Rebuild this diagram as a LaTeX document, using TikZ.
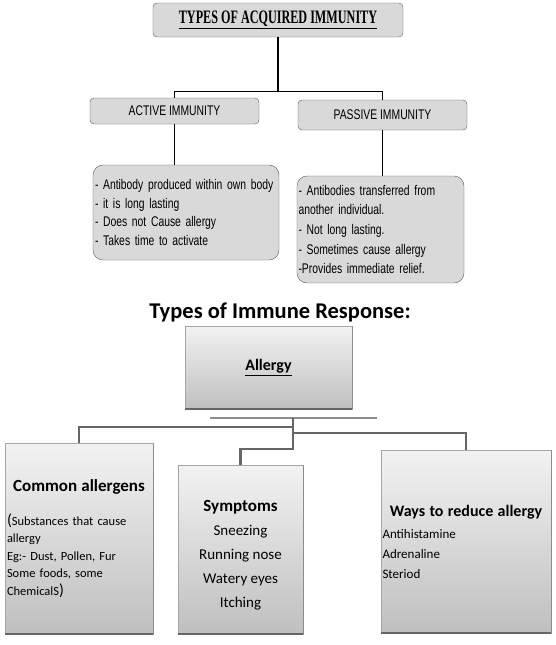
\documentclass[tikz,border=0pt]{standalone}
\usepackage{fontspec}
\setmainfont{Carlito}
\newfontfamily\narrowsans[FakeStretch=0.74]{Liberation Sans}
\newfontfamily\narrowserif[FakeStretch=0.64]{Liberation Serif}
\usetikzlibrary{calc}
\tikzset{
  tab/.style={draw=black!65,fill=gray!30,rounded corners=4pt,inner sep=0pt,font=\narrowsans\fontsize{14}{16}\selectfont},
  note/.style={draw=black!65,fill=gray!30,rounded corners=10pt,align=left,inner ysep=0pt,font=\narrowsans\fontsize{14}{18.8}\selectfont},
  panel/.style={draw=black!35,top color=black!5,bottom color=black!25,inner ysep=0pt},
  rim/.style={draw=black!60,line width=1.8pt},
  tie/.style={line width=1.3pt},
  link/.style={draw=black!60,line width=2.6pt},
  bar/.style={draw=black!45,line width=1.8pt}
}
\begin{document}
\begin{tikzpicture}[x=1pt,y=1pt]
\useasboundingbox(0,0)rectangle(556,-645);
\node[tab,minimum width=250pt,minimum height=34pt,font=\narrowserif\bfseries\fontsize{19}{19}\selectfont](acquired)at(278,-20){\underline{TYPES OF ACQUIRED IMMUNITY}};
\node[tab,minimum width=169pt,minimum height=26pt](active)at(174.5,-111){ACTIVE IMMUNITY};
\node[tab,minimum width=169pt,minimum height=30pt](passive)at(382.5,-115){PASSIVE IMMUNITY};
\node[note,minimum height=95pt,inner xsep=2pt,text width=182pt](activenote)at(186,-212.5){- Antibody produced within own body\\- it is long lasting\\- Does not Cause allergy\\- Takes time to activate};
\node[note,minimum height=107pt,inner xsep=1.5pt,text width=164pt,font=\narrowsans\fontsize{14}{19.7}\selectfont](passivenote)at(380.5,-229.5){- Antibodies transferred from\\another individual.\\- Not long lasting.\\- Sometimes cause allergy\\-Provides immediate relief.};
\draw[tie](acquired.south)--++(0,-54)coordinate(fork);
\draw[tie](fork)-|(active.north);
\draw[tie](fork)-|(passive.north);
\draw[tie](active.south)--(active.south|-activenote.north);
\draw[tie](passive.south)--(passive.south|-passivenote.north);
\node[font=\bfseries\fontsize{22.5}{24}\selectfont,anchor=base](responses)at(280,-318){Types of Immune Response:};
\node[panel,minimum width=167pt,minimum height=83pt,font=\bfseries\fontsize{16}{18}\selectfont](allergy)at(268.5,-367.5){\underline{Allergy}};
\node[panel,minimum width=148pt,minimum height=191pt,text width=144pt,inner xsep=2pt,align=left,font=\fontsize{12.5}{17.5}\selectfont](allergens)at(79,-538.5){\makebox[\linewidth]{\bfseries\fontsize{17}{17}\selectfont Common allergens}\\[16pt]{\fontsize{16}{16}\selectfont(}Substances that cause\\allergy\\Eg:- Dust, Pollen, Fur\\Some foods, some\\ChemicalS{\fontsize{16}{16}\selectfont)}};
\node[panel,minimum width=125pt,minimum height=169pt,align=center,font=\fontsize{15}{24}\selectfont](symptoms)at(240.5,-549.5){\rule{0pt}{23pt}{\bfseries\fontsize{17}{17}\selectfont Symptoms}\\Sneezing\\Running nose\\Watery eyes\\Itching};
\node[panel,minimum width=170pt,minimum height=183pt,text width=167pt,inner xsep=1.5pt,align=left,font=\fontsize{13}{20}\selectfont](remedies)at(466,-541.5){\makebox[\linewidth]{\bfseries\fontsize{16}{16}\selectfont Ways to reduce allergy}\\[2pt]Antihistamine\\Adrenaline\\Steriod};
\foreach \n in {allergy,allergens,symptoms,remedies}{
  \draw[rim](\n.south west)--(\n.south east);
  \draw[draw=black!45](\n.south east)--(\n.north east);
}
\coordinate(hub)at($(allergy.south)+(24.5,-9)$);
\draw[bar]($(hub)+(-83,0)$)--($(hub)+(84,0)$);
\foreach \n/\rise in {allergens/16,symptoms/16,remedies/17}
  \draw[link](hub)|-($(\n.north)+(0,\rise)$)--(\n.north);
\end{tikzpicture}
\end{document}
